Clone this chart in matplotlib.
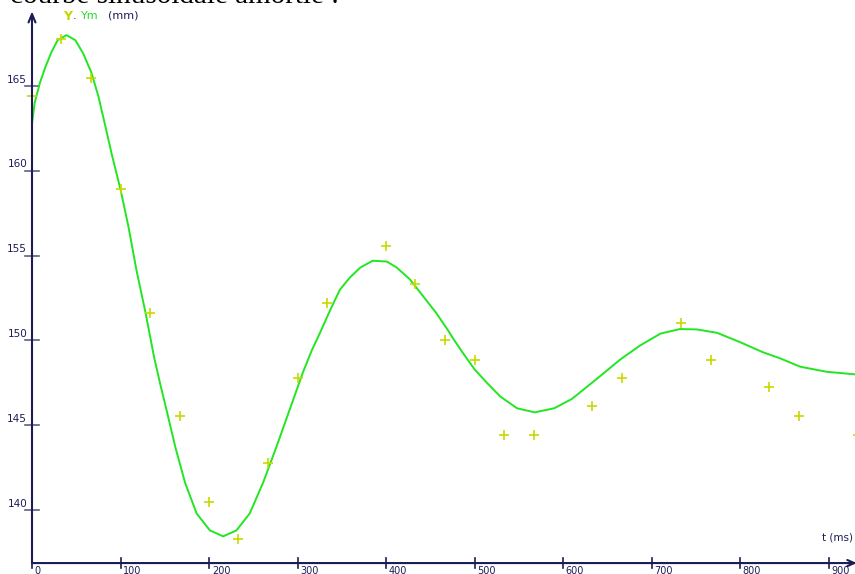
import matplotlib
matplotlib.use("Agg")
import matplotlib.pyplot as plt
from matplotlib.transforms import offset_copy

# measured points (t in ms, Y in mm)
t_pts = [0, 33, 67, 100, 133, 167, 200, 233, 267, 300, 333, 400,
         433, 467, 500, 533, 567, 633, 667, 733, 767, 833, 867, 933]
y_pts = [164.4, 167.75, 165.5, 158.9, 151.6, 145.55, 140.5, 138.3, 142.75, 147.8, 152.2, 155.55,
         153.3, 150.0, 148.85, 144.45, 144.45, 146.15, 147.8, 151.05, 148.85, 147.25, 145.55, 144.45]

# model curve Ym
t_fit = [0, 3, 9, 15, 22, 29, 39, 49, 58, 67, 75, 83, 90, 100, 109, 118, 128, 138, 145, 152,
         162, 173, 186, 201, 216, 231, 246, 261, 276, 291, 306, 316, 325, 337, 348, 359, 371,
         385, 401, 412, 427, 442, 457, 470, 476, 487, 500, 514, 529, 548, 568, 590, 610, 635,
         649, 664, 687, 710, 732, 751, 774, 800, 826, 845, 868, 898, 930]
y_fit = [162.8, 164.0, 165.2, 166.1, 167.0, 167.7, 168.0, 167.7, 166.9, 165.8, 164.4, 162.6,
         161.0, 158.9, 156.7, 154.15, 151.7, 149.0, 147.4, 145.9, 143.7, 141.6, 139.8, 138.8,
         138.45, 138.8, 139.8, 141.6, 143.7, 145.9, 148.1, 149.4, 150.4, 151.8, 153.0, 153.7,
         154.3, 154.7, 154.65, 154.3, 153.6, 152.6, 151.6, 150.6, 150.1, 149.25, 148.3, 147.5,
         146.7, 146.0, 145.76, 146.0, 146.55, 147.6, 148.2, 148.85, 149.7, 150.4, 150.67,
         150.65, 150.45, 149.9, 149.3, 148.95, 148.45, 148.15, 148.0]

x_ticks = [0, 100, 200, 300, 400, 500, 600, 700, 800, 900]
y_ticks = [140, 145, 150, 155, 160, 165]

navy = "#1c1c55"
W, H = 855, 574

fig = plt.figure(figsize=(W / 100, H / 100), dpi=100)
ax = fig.add_axes([0, 0, 1, 1])
ax.set_xlim(-36.16, 929.9)
ax.set_ylim(136.23, 170.07)
ax.set_axis_off()

y_base = 136.875

# axes lines with arrow heads
ax.annotate("", xy=(932, y_base), xytext=(0, y_base), annotation_clip=False,
            arrowprops=dict(arrowstyle="->,head_length=0.5,head_width=0.22",
                            color=navy, lw=1.5, shrinkA=0, shrinkB=0))
ax.annotate("", xy=(0, 169.4), xytext=(0, y_base),
            arrowprops=dict(arrowstyle="->,head_length=0.6,head_width=0.25",
                            color=navy, lw=1.5, shrinkA=0, shrinkB=0))

# ticks and labels
for v in y_ticks:
    ax.plot([-7.9, 7.9], [v, v], color=navy, lw=1.2, alpha=0.7)
    tr = offset_copy(ax.transData, fig=fig, x=-3.5, y=1, units="points")
    ax.text(0, v, str(v), transform=tr, ha="right", va="bottom",
            fontsize=7.5, color=navy)
for v in x_ticks:
    ax.plot([v, v], [y_base - 0.27, y_base + 0.27], color=navy, lw=1.2)
    tr = offset_copy(ax.transData, fig=fig, x=2, y=-1.8, units="points")
    ax.text(v, y_base, str(v), transform=tr, ha="left", va="top",
            fontsize=7, color=navy)

# data
ax.plot(t_fit, y_fit, color="#22e622", lw=1.4)
ax.plot(t_pts, y_pts, ls="none", marker="+", ms=7, mew=1.2, color="#c8d800")

# axis names
def px(x, y):
    return x / W, 1 - y / H

fig.text(*px(63, 16), "Y", fontsize=9, fontweight="bold", color="#c8d400", va="center")
fig.text(*px(73, 16), ".", fontsize=8, color=navy, va="center")
fig.text(*px(81, 16), "Ym", fontsize=8, color="#22dd22", va="center")
fig.text(*px(108, 16), "(mm)", fontsize=8, color=navy, va="center")
fig.text(*px(822, 537), "t (ms)", fontsize=7.5, color=navy, va="center")

# cut-off caption above the chart
fig.text(*px(10, 3), "courbe sinusoïdale amortie :", fontsize=21,
         family="Liberation Serif", color="black", va="baseline")

fig.savefig("out.png", dpi=100)
